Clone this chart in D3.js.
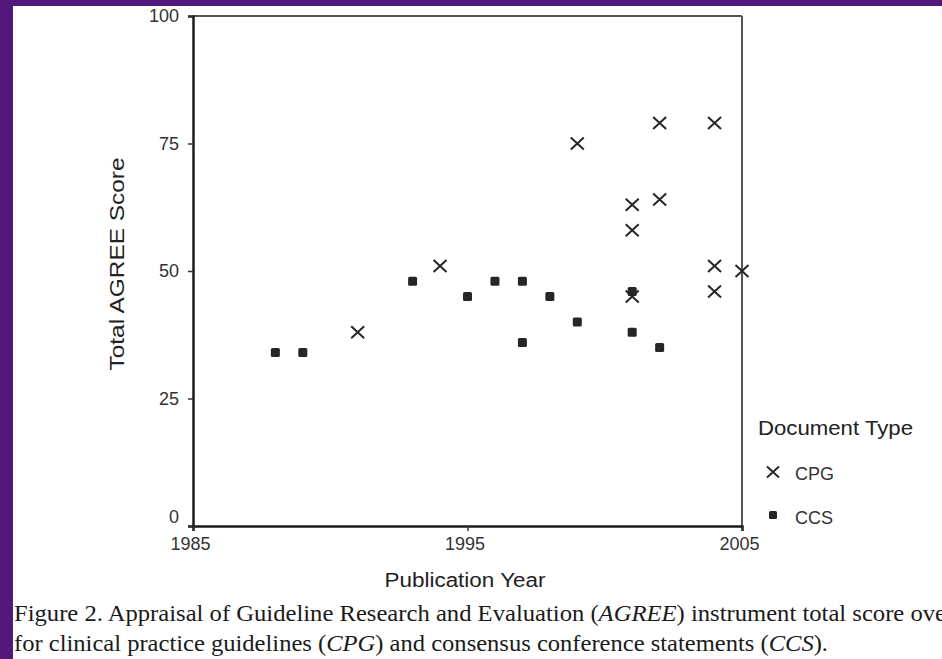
<!DOCTYPE html>
<html>
<head>
<meta charset="utf-8">
<script src="https://cdn.jsdelivr.net/npm/d3@7"></script>
<style>
  html, body { margin: 0; padding: 0; background: #52187b; }
  svg { display: block; }
</style>
</head>
<body>
<svg id="chart" width="942" height="659"></svg>
<script>
// ---- data ----
const cpgYears  = [1991, 1994, 1999, 2001, 2001, 2001, 2002, 2002, 2004, 2004, 2004, 2005];
const cpgScores = [38,   51,   75,   63,   58,   45,   79,   64,   79,   51,   46,   50];
const ccsYears  = [1988, 1989, 1993, 1995, 1996, 1997, 1997, 1998, 1999, 2001, 2001, 2002];
const ccsScores = [34,   34,   48,   45,   48,   48,   36,   45,   40,   46,   38,   35];
const xTicks = [1985, 1995, 2005];
const yTicks = [0, 25, 50, 75, 100];
const legendLabels = ["CPG", "CCS"];

const svg = d3.select("#chart");

// purple frame + white panel
svg.append("rect").attr("x", 0).attr("y", 0).attr("width", 942).attr("height", 659).attr("fill", "#52187b");
svg.append("rect").attr("x", 13).attr("y", 6).attr("width", 929).attr("height", 653).attr("fill", "#ffffff");

const x = d3.scaleLinear().domain([1985, 2005]).range([193, 742]);
const y = d3.scaleLinear().domain([0, 100]).range([526, 16]);

// top and right frame lines
svg.append("line").attr("x1", x(1985)).attr("x2", x(2005)).attr("y1", y(100)).attr("y2", y(100))
  .attr("stroke", "#555").attr("stroke-width", 2);
svg.append("line").attr("x1", x(2005)).attr("x2", x(2005)).attr("y1", y(100)).attr("y2", y(0))
  .attr("stroke", "#555").attr("stroke-width", 2);

// y axis
const yAxis = svg.append("g").attr("transform", `translate(${x(1985)},0)`)
  .call(d3.axisLeft(y).tickValues(yTicks).tickSize(5).tickPadding(9).tickFormat(d3.format("d")));
yAxis.select(".domain").attr("stroke", "#1c1c1c").attr("stroke-width", 2.5);
yAxis.selectAll(".tick line").attr("stroke", "#333").attr("stroke-width", 1.5);
yAxis.selectAll(".tick text")
  .attr("font-family", "'Liberation Sans', Arial, sans-serif").attr("font-size", 18).attr("fill", "#333")
  .attr("dy", d => d === 0 ? "-0.2em" : "0.32em");

// x axis
const xAxis = svg.append("g").attr("transform", `translate(0,${y(0)})`)
  .call(d3.axisBottom(x).tickValues(xTicks).tickSize(5).tickPadding(6).tickFormat(d3.format("d")));
xAxis.select(".domain").attr("stroke", "#1c1c1c").attr("stroke-width", 2.5);
xAxis.selectAll(".tick line").attr("stroke", "#333").attr("stroke-width", 1.5);
xAxis.selectAll(".tick text")
  .attr("font-family", "'Liberation Sans', Arial, sans-serif").attr("font-size", 18).attr("fill", "#333")
  .attr("dx", "-3");

// axis titles
svg.append("text").attr("x", 465).attr("y", 587).attr("text-anchor", "middle")
  .attr("font-family", "'Liberation Sans', Arial, sans-serif").attr("font-size", 20).attr("fill", "#222")
  .attr("textLength", 161).attr("lengthAdjust", "spacingAndGlyphs")
  .text("Publication Year");
svg.append("text").attr("transform", "translate(124,264) rotate(-90)").attr("text-anchor", "middle")
  .attr("font-family", "'Liberation Sans', Arial, sans-serif").attr("font-size", 20).attr("fill", "#222")
  .attr("textLength", 213).attr("lengthAdjust", "spacingAndGlyphs")
  .text("Total AGREE Score");

// markers
const crossPath = (cx, cy, w, h) => `M${cx - w},${cy - h}L${cx + w},${cy + h}M${cx - w},${cy + h}L${cx + w},${cy - h}`;

const ccs = ccsYears.map((yr, i) => ({ yr, v: ccsScores[i] }));
const cpg = cpgYears.map((yr, i) => ({ yr, v: cpgScores[i] }));

svg.append("g").selectAll("rect").data(ccs).join("rect")
  .attr("x", d => x(d.yr) - 4.5).attr("y", d => y(d.v) - 4.5)
  .attr("width", 9).attr("height", 9).attr("rx", 1.5)
  .attr("fill", "#262626");

svg.append("g").selectAll("path").data(cpg).join("path")
  .attr("d", d => crossPath(x(d.yr), y(d.v), 6.5, 6))
  .attr("stroke", "#262626").attr("stroke-width", 2).attr("fill", "none");

// legend
const lg = svg.append("g");
lg.append("text").attr("x", 758).attr("y", 435)
  .attr("font-family", "'Liberation Sans', Arial, sans-serif").attr("font-size", 21).attr("fill", "#222")
  .attr("textLength", 155).attr("lengthAdjust", "spacingAndGlyphs")
  .text("Document Type");
lg.append("path").attr("d", crossPath(773, 472, 6, 5.5))
  .attr("stroke", "#262626").attr("stroke-width", 2).attr("fill", "none");
lg.append("rect").attr("x", 769).attr("y", 511).attr("width", 8).attr("height", 8).attr("rx", 1.5).attr("fill", "#262626");
lg.selectAll("text.lab").data(legendLabels).join("text").attr("class", "lab")
  .attr("x", 795).attr("y", (d, i) => 480 + i * 44)
  .attr("font-family", "'Liberation Sans', Arial, sans-serif").attr("font-size", 18).attr("fill", "#333")
  .text(d => d);

// caption
const cap = svg.append("g").attr("font-family", "'Liberation Serif', 'Times New Roman', serif")
  .attr("font-size", 24).attr("fill", "#1a1a1a");
const l1 = cap.append("text").attr("x", 14).attr("y", 621)
  .attr("textLength", 932).attr("lengthAdjust", "spacingAndGlyphs");
l1.append("tspan").text("Figure 2. Appraisal of Guideline Research and Evaluation (");
l1.append("tspan").attr("font-style", "italic").text("AGREE");
l1.append("tspan").text(") instrument total score ove");
const l2 = cap.append("text").attr("x", 14).attr("y", 651)
  .attr("textLength", 814).attr("lengthAdjust", "spacingAndGlyphs");
l2.append("tspan").text("for clinical practice guidelines (");
l2.append("tspan").attr("font-style", "italic").text("CPG");
l2.append("tspan").text(") and consensus conference statements (");
l2.append("tspan").attr("font-style", "italic").text("CCS");
l2.append("tspan").text(").");
</script>
</body>
</html>
